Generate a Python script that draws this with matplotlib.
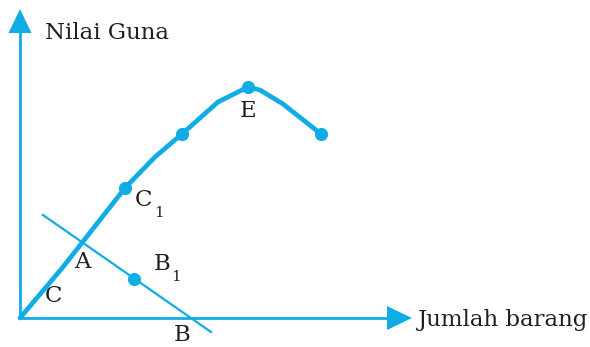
import matplotlib
matplotlib.use("Agg")
import matplotlib.pyplot as plt
from matplotlib.patches import Polygon

# Data (units: distance from origin)
curve_x = [0, 43, 105, 135, 162, 198, 228, 240, 263, 301]
curve_y = [0, 51, 130, 161, 184, 216, 231, 228, 214, 184]
dot_x = [105, 162, 228, 301]
dot_y = [130, 184, 231, 184]
budget_x = [23, 191]
budget_y = [103, -14]
b1_x = [114]
b1_y = [39]
x_label = "Jumlah barang"
y_label = "Nilai Guna"

col = "#10ACE6"
fig = plt.figure(figsize=(5.9, 3.47), dpi=100)
ax = fig.add_axes([0, 0, 1, 1])
ax.set_xlim(-20, 570)
ax.set_ylim(-29, 318)
ax.axis("off")

# axes
ax.plot([0, 0], [0, 290], color=col, lw=2.0, solid_capstyle="butt")
ax.plot([0, 370], [0, 0], color=col, lw=2.0, solid_capstyle="butt")
ax.add_patch(Polygon([[-11.5, 285], [11.5, 285], [0, 309]], closed=True, color=col, lw=0))
ax.add_patch(Polygon([[367, 12], [367, -12], [392, 0]], closed=True, color=col, lw=0))

ax.plot(curve_x, curve_y, color=col, lw=3.4, solid_joinstyle="round", solid_capstyle="round")
ax.plot(dot_x, dot_y, "o", color=col, ms=9.5, mec="none")
ax.plot(budget_x, budget_y, color=col, lw=1.6)
ax.plot(b1_x, b1_y, "o", color=col, ms=9.5, mec="none")

fam = "DejaVu Serif"
fs = 16.5
sfs = 11
tc = "#231f20"
ax.text(25, 285, y_label, fontsize=fs, family=fam, color=tc, va="center", ha="left")
ax.text(398, -2, x_label, fontsize=fs, family=fam, color=tc, va="center", ha="left")
ax.text(34, 22, "C", fontsize=fs, family=fam, color=tc, va="center", ha="center")
ax.text(62, 56, "A", fontsize=fs, family=fam, color=tc, va="center", ha="center")
ax.text(142, 54, "B", fontsize=fs, family=fam, color=tc, va="center", ha="center")
ax.text(156, 41, "1", fontsize=sfs, family=fam, color=tc, va="center", ha="center")
ax.text(124, 118, "C", fontsize=fs, family=fam, color=tc, va="center", ha="center")
ax.text(139, 105, "1", fontsize=sfs, family=fam, color=tc, va="center", ha="center")
ax.text(228, 207, "E", fontsize=fs, family=fam, color=tc, va="center", ha="center")
ax.text(162, -17, "B", fontsize=fs, family=fam, color=tc, va="center", ha="center")

fig.savefig("out.png", dpi=100)
